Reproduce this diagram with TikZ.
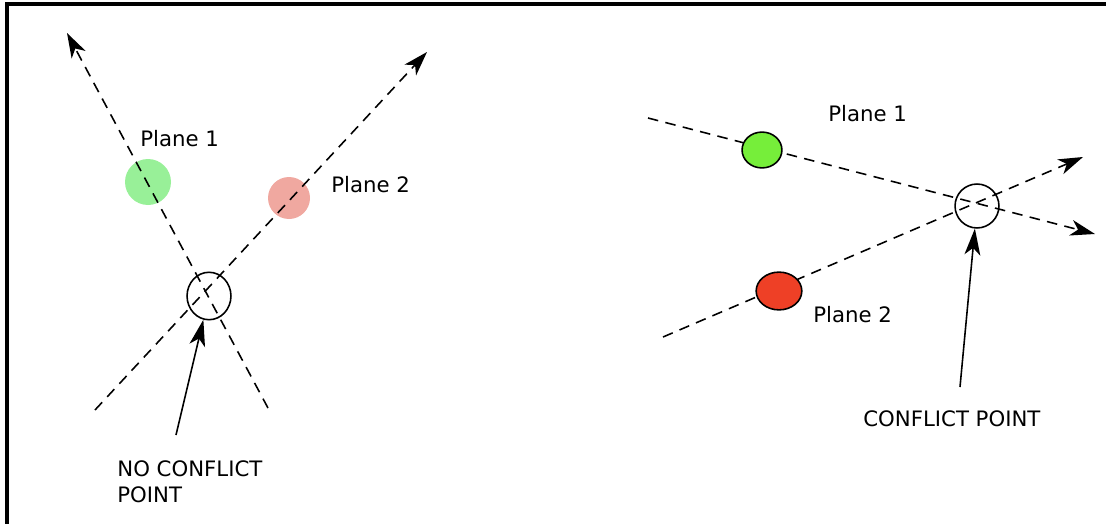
\documentclass[tikz,border=0pt]{standalone}
\usepackage{fontspec}
\setmainfont{DejaVu Sans}
\usetikzlibrary{arrows.meta,shapes.geometric}
\definecolor{palegreen}{RGB}{152,240,152}
\definecolor{palered}{RGB}{240,168,160}
\definecolor{planegreen}{RGB}{118,238,58}
\definecolor{planered}{RGB}{238,64,38}
\tikzset{
  route/.style={dash pattern=on 6pt off 4.2pt, line width=0.9pt},
  routearrow/.style={route, -{Stealth[length=14pt,width=9pt,inset=4pt]}},
  pointer/.style={-{Stealth[length=15pt,width=9pt,inset=4pt]}, line width=0.9pt},
  spot/.style={ellipse, draw, line width=0.9pt, inner sep=0pt},
  tag/.style={inner sep=0pt, anchor=base west}
}
\begin{document}
\begin{tikzpicture}[x=0.02cm, y=-0.02cm, font=\fontsize{12.1}{14.9}\selectfont]
\useasboundingbox (0,0) rectangle (1106,524);
\draw[line width=2pt] (7,524) -- (7,4) -- (1106,4);

% left: the two routes cross, but not at the same time
\fill[palegreen] (148,182) circle [radius=23];
\fill[palered] (289,198) circle [radius=21];
\coordinate (lstart1) at (268,408);
\coordinate (lend1) at (67,33);
\coordinate (lstart2) at (95,410);
\coordinate (lend2) at (427,52);
\draw[routearrow] (lstart1) -- (lend1);
\draw[routearrow] (lstart2) -- (lend2);
\node[spot, minimum width=25pt, minimum height=27pt] (nocross) at (209,296) {};
\node[tag] (lplane1) at (140,146) {Plane 1};
\node[tag] (lplane2) at (331,192) {Plane 2};
\node[tag, anchor=north west, align=left] (nolabel) at (117,460) {NO CONFLICT\\POINT};
\coordinate (notail) at (176,435);
\draw[pointer] (notail) -- (nocross);

% right: the two routes meet at the same point
\coordinate (rstart1) at (648,118);
\coordinate (rend1) at (1095,234);
\coordinate (rstart2) at (663,337);
\coordinate (rend2) at (1083,157);
\draw[routearrow] (rstart1) -- (rend1);
\draw[routearrow] (rstart2) -- (rend2);
\node[spot, fill=planegreen, minimum width=22.7pt, minimum height=20.4pt] (rplane1) at (762,150) {};
\node[spot, fill=planered, minimum width=26pt, minimum height=21.5pt] (rplane2) at (779,291) {};
\node[spot, minimum width=25pt, minimum height=25pt] (cross) at (977,206) {};
\node[tag] (rlabel1) at (828,121) {Plane 1};
\node[tag] (rlabel2) at (813,322) {Plane 2};
\node[tag] (crosslabel) at (863,426) {CONFLICT POINT};
\coordinate (crosstail) at (960,387);
\draw[pointer] (crosstail) -- (cross);
\end{tikzpicture}
\end{document}
